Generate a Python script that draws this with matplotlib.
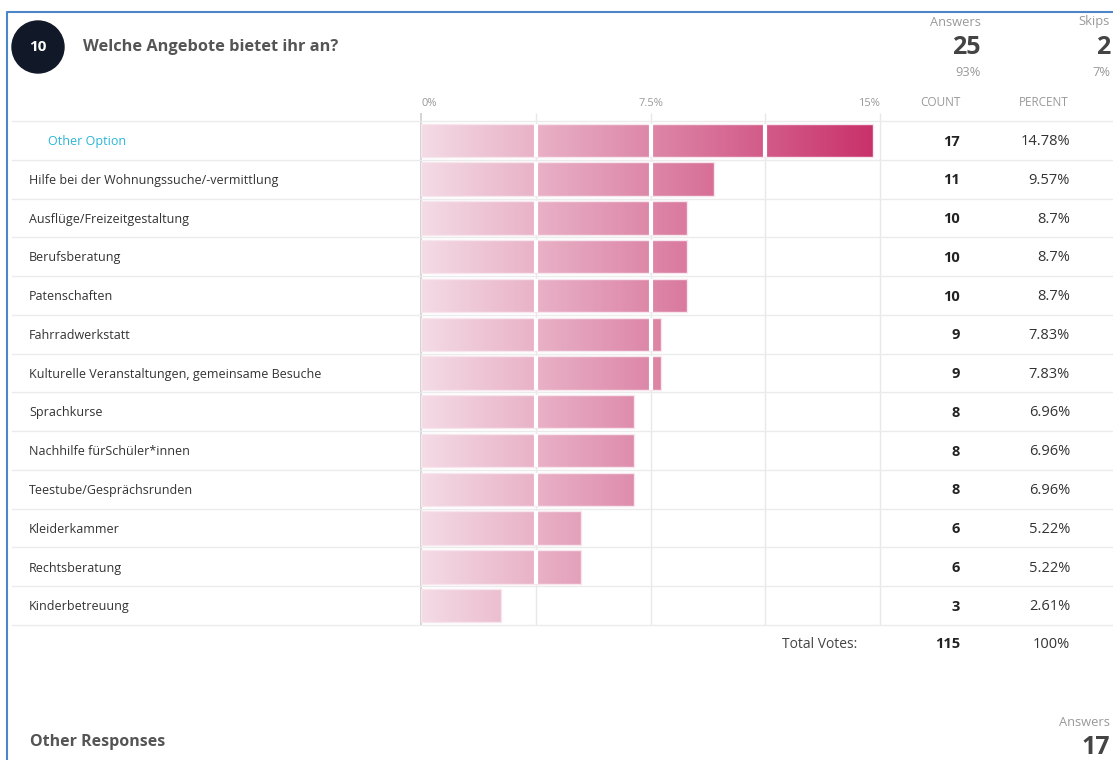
#Survey result chart: horizontal bars with gradient fill and a count/percent table

import matplotlib.pyplot as plt
import matplotlib.transforms as mtransforms
from matplotlib.colors import LinearSegmentedColormap
from matplotlib.patches import Circle
from matplotlib.lines import Line2D
import numpy as np

plt.rcParams['font.family'] = ['Open Sans', 'DejaVu Sans']

question_no = "10"
question = "Welche Angebote bietet ihr an?"
answers, answers_pct = 25, "93%"
skips, skips_pct = 2, "7%"

options = ["Other Option",
           "Hilfe bei der Wohnungssuche/-vermittlung",
           "Ausflüge/Freizeitgestaltung",
           "Berufsberatung",
           "Patenschaften",
           "Fahrradwerkstatt",
           "Kulturelle Veranstaltungen, gemeinsame Besuche",
           "Sprachkurse",
           "Nachhilfe fürSchüler*innen",
           "Teestube/Gesprächsrunden",
           "Kleiderkammer",
           "Rechtsberatung",
           "Kinderbetreuung"]
counts = [17, 11, 10, 10, 10, 9, 9, 8, 8, 8, 6, 6, 3]
percents = [14.78, 9.57, 8.7, 8.7, 8.7, 7.83, 7.83, 6.96, 6.96, 6.96, 5.22, 5.22, 2.61]
total_votes = 115
other_answers = 17

x_ticks = [0, 7.5, 15]
x_tick_labels = ["0%", "7.5%", "15%"]
grid_steps = [3.75, 7.5, 11.25, 15]

W, H = 1113, 760
fig = plt.figure(figsize=(W / 100, H / 100), dpi=100)


def fx(px):
    return px / W


def fy(py):
    return 1 - py / H


# bar area
row_top, row_bot = 121, 625
ax = fig.add_axes([fx(421), fy(row_bot), fx(880) - fx(421), fy(row_top) - fy(row_bot)])
n = len(options)
ax.set_xlim(0, 15)
ax.set_ylim(n - 0.5, -0.5)
ax.axis('off')

y = np.arange(n)
bar_h = 0.86
cmap = LinearSegmentedColormap.from_list("pink", ["#f4dbe5", "#dd87a8", "#c82f69"])
gradient = np.linspace(0, 1, 400).reshape(1, -1)

# grid lines
for g in grid_steps:
    ax.vlines(g, n - 0.5, -0.7, color="#e8e8e8", lw=1, zorder=0, clip_on=False)
ax.vlines(0, n - 0.5, -0.7, color="#cccccc", lw=1.2, zorder=0, clip_on=False)

bars = ax.barh(y, percents, height=bar_h, color='none', edgecolor='#f7e6ed', lw=1, zorder=3)
for bar, v, yi in zip(bars, percents, y):
    im = ax.imshow(gradient, extent=[0, 15, yi + bar_h / 2, yi - bar_h / 2],
                   cmap=cmap, aspect='auto', zorder=2, interpolation='bilinear')
    im.set_clip_path(bar)
    for g in grid_steps[:-1]:
        if v > g:
            ax.vlines(g, yi - bar_h / 2, yi + bar_h / 2, color='white', lw=3, zorder=4)

# row separators across the full card width
blend = mtransforms.blended_transform_factory(fig.transFigure, ax.transData)
for k in range(n + 1):
    ax.add_line(Line2D([fx(12), 1], [k - 0.5, k - 0.5], transform=blend,
                       color="#ebebeb", lw=1, clip_on=False, zorder=1))

# row labels and table columns
for i, (lab, c, p) in enumerate(zip(options, counts, percents)):
    yy = i + 0.03
    if i == 0:
        ax.text(fx(48), yy, lab, transform=blend, ha='left', va='center',
                fontsize=9, color="#2bb5d8")
    else:
        ax.text(fx(29), yy, lab, transform=blend, ha='left', va='center',
                fontsize=9, color="#333333")
    ax.text(fx(960), yy, str(c), transform=blend, ha='right', va='center',
            fontsize=10.5, fontweight='bold', color="#222222")
    ax.text(fx(1070), yy, f"{p:g}%", transform=blend, ha='right', va='center',
            fontsize=10.5, color="#333333")

# total row
ax.text(fx(857), n, "Total Votes:", transform=blend, ha='right', va='center',
        fontsize=10, color="#444444")
ax.text(fx(960), n, str(total_votes), transform=blend, ha='right', va='center',
        fontsize=10.5, fontweight='bold', color="#222222")
ax.text(fx(1070), n, "100%", transform=blend, ha='right', va='center',
        fontsize=10.5, color="#333333")

# header row
head = mtransforms.blended_transform_factory(ax.transData, fig.transFigure)
aligns = ['left', 'center', 'right']
for t, lab, a in zip(x_ticks, x_tick_labels, aligns):
    ax.text(t, fy(103), lab, transform=head, ha=a, va='center', fontsize=8, color="#999999")
fig.text(fx(940), fy(103), "COUNT", ha='center', va='center', fontsize=8.5, color="#999999")
fig.text(fx(1044), fy(103), "PERCENT", ha='center', va='center', fontsize=8.5, color="#999999")

# question header
fig.add_artist(Circle((38, H - 47), 26, transform=mtransforms.IdentityTransform(),
                      color="#111827"))
fig.text(fx(38), fy(47), question_no, ha='center', va='center', fontsize=11,
         fontweight='bold', color='white')
fig.text(fx(83), fy(47), question, ha='left', va='center', fontsize=11.8,
         fontweight='bold', color="#555555")

fig.text(fx(981), fy(22), "Answers", ha='right', va='center', fontsize=9.3, color="#999999")
fig.text(fx(981), fy(47), str(answers), ha='right', va='center', fontsize=18,
         fontweight='bold', color="#444444")
fig.text(fx(981), fy(72), answers_pct, ha='right', va='center', fontsize=9.3, color="#999999")
fig.text(fx(1110), fy(22), "Skips", ha='right', va='center', fontsize=9.3, color="#999999")
fig.text(fx(1110), fy(47), str(skips), ha='right', va='center', fontsize=18,
         fontweight='bold', color="#444444")
fig.text(fx(1110), fy(72), skips_pct, ha='right', va='center', fontsize=9.3, color="#999999")

# other responses footer
fig.text(fx(30), fy(742), "Other Responses", ha='left', va='center', fontsize=11.5,
         fontweight='bold', color="#555555")
fig.text(fx(1110), fy(723), "Answers", ha='right', va='center', fontsize=9.3, color="#999999")
fig.text(fx(1110), fy(748), str(other_answers), ha='right', va='center', fontsize=18,
         fontweight='bold', color="#444444")

# card border
fig.add_artist(Line2D([fx(7), fx(7), 1], [0, fy(12), fy(12)], transform=fig.transFigure,
                      color="#4a86c8", lw=1.5))

fig.savefig("out.png", dpi=100)
